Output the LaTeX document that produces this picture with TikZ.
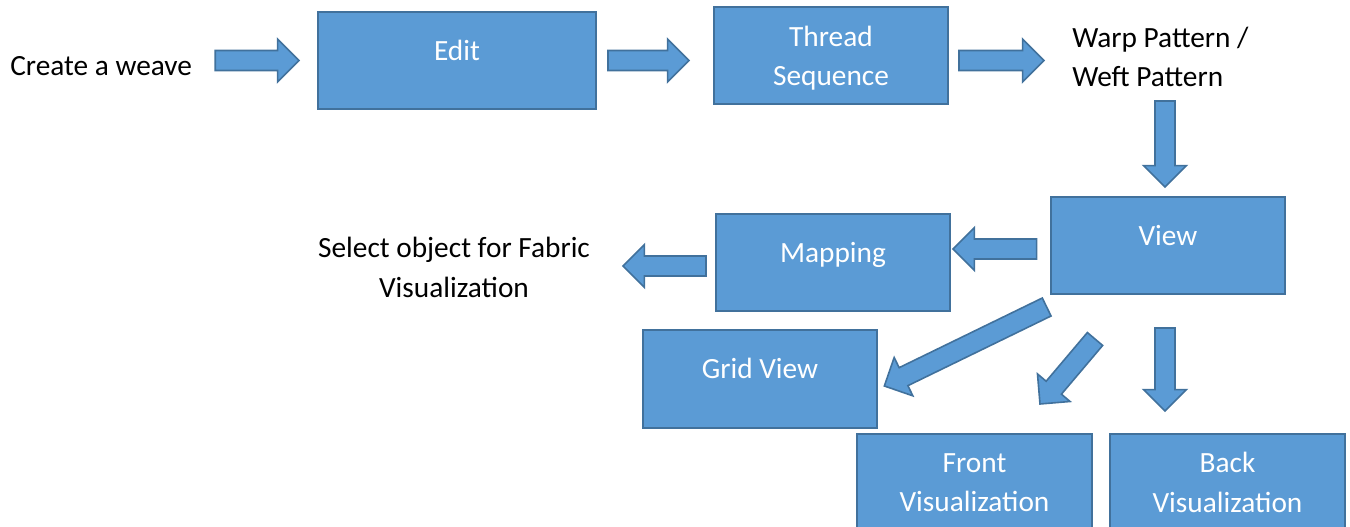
\documentclass[tikz,border=0pt]{standalone}
\usepackage{fontspec}
\setmainfont{Carlito}
\usetikzlibrary{calc}
\definecolor{boxblue}{HTML}{5B9BD5}
\definecolor{boxedge}{HTML}{41719C}

% block arrow from #1 to #2
\newcommand{\shafthalf}{7.5pt}
\newcommand{\headhalf}{16pt}
\newcommand{\headlen}{16pt}
\newcommand{\flowarrow}[2]{%
  \path #1 coordinate (fa tail) #2 coordinate (fa tip);
  \path ($(fa tip)!\headlen!(fa tail)$) coordinate (fa neck);
  \draw[blockarrow] ($(fa tail)!\shafthalf!90:(fa tip)$) -- ($(fa neck)!\shafthalf!90:(fa tip)$)
    -- ($(fa neck)!\headhalf!90:(fa tip)$) -- (fa tip) -- ($(fa neck)!\headhalf!-90:(fa tip)$)
    -- ($(fa neck)!\shafthalf!-90:(fa tip)$) -- ($(fa tail)!\shafthalf!-90:(fa tip)$) -- cycle;}

\begin{document}
\begin{tikzpicture}[x=0.75pt,y=-0.75pt,
  every node/.style={font=\fontsize{22}{29.5}\selectfont},
  stagebox/.style={rectangle,draw=boxedge,fill=boxblue,line width=1.5pt,text=white,
    align=center,minimum width=176pt,minimum height=72.75pt,inner sep=0pt},
  oneline/.style={text height=10pt,text depth=10.1pt},
  note/.style={inner sep=0pt,align=center},
  blockarrow/.style={draw=boxedge,fill=boxblue,line width=1.2pt,line join=miter}]
\useasboundingbox (0,0) rectangle (1350,527);

% boxes
\node[stagebox,oneline,minimum width=208.5pt] (edit) at (457,60.5) {Edit};
\node[stagebox,minimum width=175.5pt,text depth=0pt] (thread) at (831,56) {Thread\\Sequence};
\node[stagebox,oneline] (view) at (1168,245.5) {View};
\node[stagebox,oneline,minimum width=175.5pt] (mapping) at (833,262.5) {Mapping};
\node[stagebox,oneline] (grid) at (760,379) {Grid View};
\node[stagebox] (front) at (974.5,482.5) {Front\\Visualization};
\node[stagebox] (back) at (1227.5,482.5) {Back\\Visualization};

% plain texts
\node[note,anchor=base west] (create) at (10,76) {Create a weave};
\node[note,anchor=west,align=left] (pattern) at (1072,57) {Warp Pattern /\\Weft Pattern};
\node[note] (select) at (454,267.5) {Select object for Fabric\\Visualization};

% arrows
\flowarrow{($(create.east|-edit.west)+(23,0)$)}{($(edit.west)+(-18,0)$)}
\flowarrow{($(edit.east)+(11,0)$)}{($(thread.west|-edit.east)+(-24,0)$)}
\flowarrow{($(thread.east|-edit.east)+(10,0)$)}{($(pattern.west|-edit.east)+(-28,0)$)}
\flowarrow{($(view.north)+(-3,-95)$)}{($(view.north)+(-3,-9)$)}
\flowarrow{($(view.west)+(-13,3.5)$)}{($(mapping.east)+(2,-13.5)$)}
\flowarrow{($(mapping.west)+(-9,3.5)$)}{($(mapping.west)+(-92,3.5)$)}
\flowarrow{($(view.south west)+(-3,12)$)}{($(grid.east)+(6,7)$)}
\flowarrow{($(view.south)+(-73,44)$)}{($(front.north)+(65.5,-29)$)}
\flowarrow{($(view.south)+(-3,33)$)}{($(back.north)+(-62.5,-22)$)}
\end{tikzpicture}
\end{document}
